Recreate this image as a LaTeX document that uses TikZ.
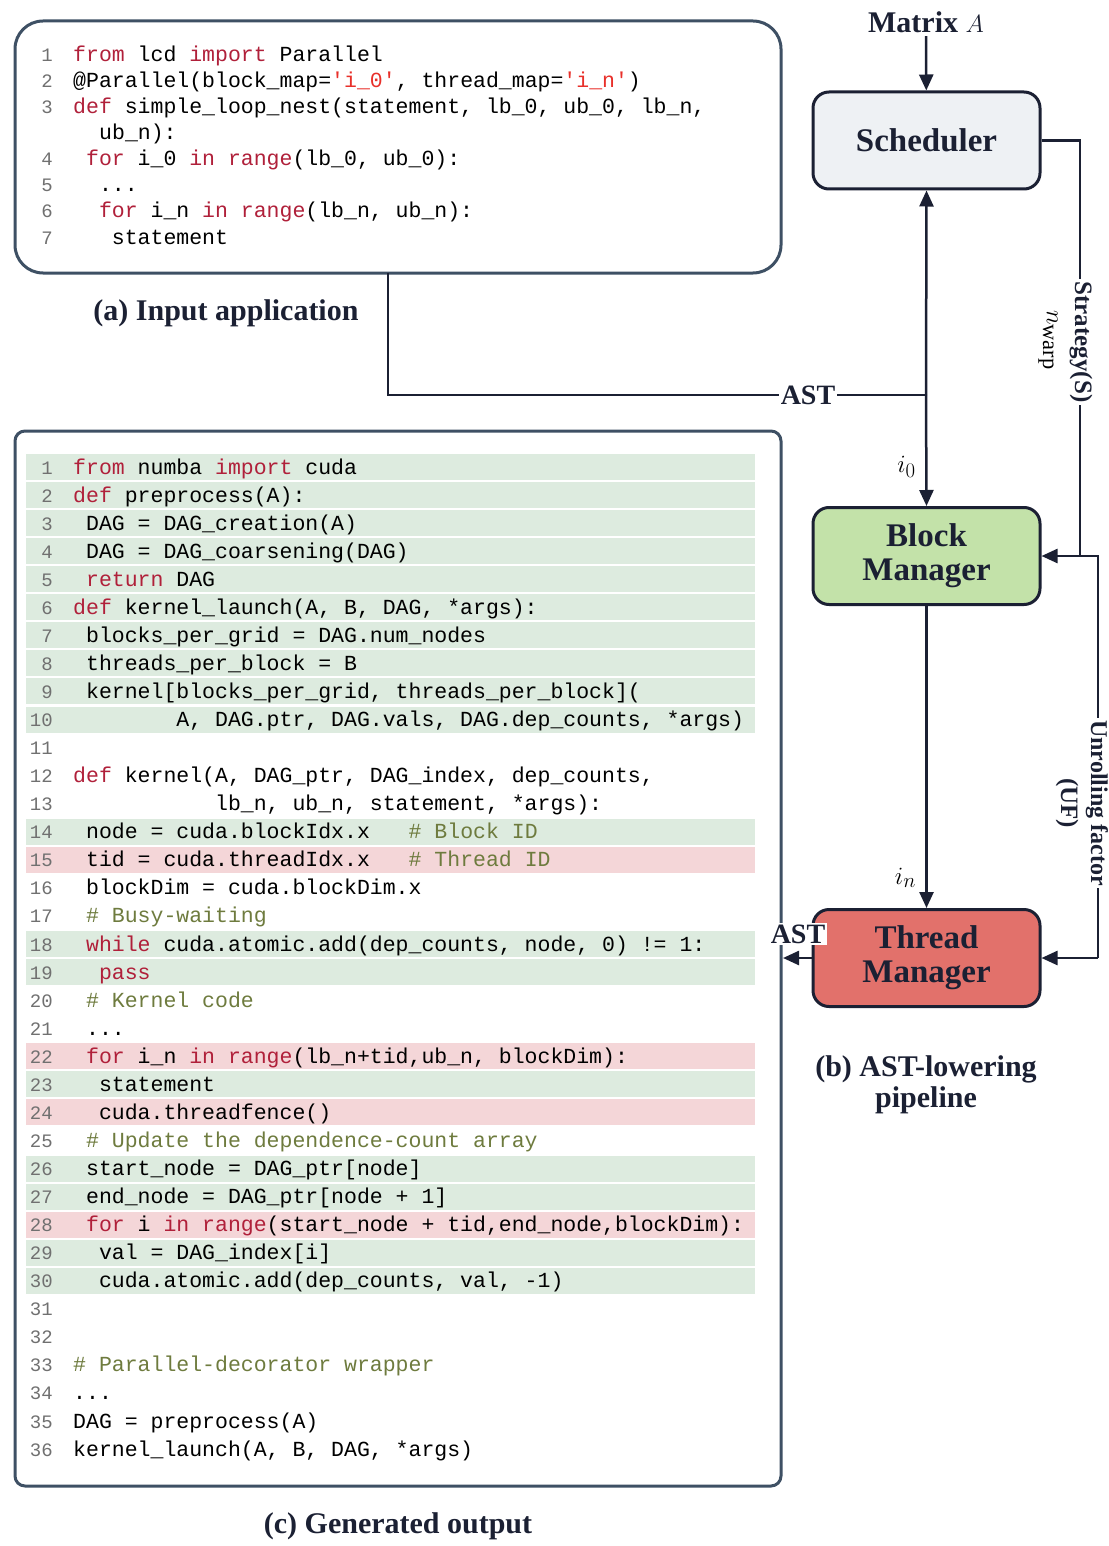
\documentclass[tikz,border=0pt]{standalone}
\usepackage{fontspec}
\setmainfont{Liberation Serif}
\setmonofont{Liberation Mono}
\usetikzlibrary{arrows.meta}
\definecolor{kwc}{HTML}{B0203A}
\definecolor{stc}{HTML}{E8302A}
\definecolor{cmc}{HTML}{6E7B3E}
\definecolor{lnc}{HTML}{707070}
\definecolor{bandg}{HTML}{DDEBDF}
\definecolor{bandr}{HTML}{F4D6D8}
\definecolor{boxb}{HTML}{3E5064}
\definecolor{navy}{HTML}{1B2033}
\definecolor{schf}{HTML}{EEF1F4}
\definecolor{bmf}{HTML}{C3E2A9}
\definecolor{tmf}{HTML}{E2716B}
\newcommand{\kw}[1]{\textcolor{kwc}{#1}}
\newcommand{\st}[1]{\textcolor{stc}{#1}}
\newcommand{\cm}[1]{\textcolor{cmc}{#1}}
\tikzset{
 code/.style={anchor=base west,inner sep=0pt,font=\fontsize{21.5}{24}\ttfamily},
 lnum/.style={anchor=base east,inner sep=0pt,text=lnc,font=\fontsize{19}{22}\ttfamily},
 blk/.style={draw=navy,line width=3pt,rounded corners=16pt,minimum width=227pt,minimum height=97pt,align=center,font=\fontsize{33}{36}\bfseries,text=navy},
 capt/.style={font=\fontsize{30}{35}\bfseries,text=navy,align=center},
 arr/.style={draw=navy,line width=2.5pt,-{Triangle[length=16pt,width=14pt]}},
 ln/.style={draw=navy,line width=2.5pt},
 mlab/.style={font=\fontsize{32}{34}\selectfont},
}
\newcommand{\TL}[4]{\node[lnum] (tn#1) at (53,#2+7) {#1};\node[code] (tl#1) at (73+#3*12.9,#2+7) {#4};}
\newcommand{\BL}[3]{\pgfmathsetmacro{\yy}{467+(#1-1)*28.06}\node[lnum] (bn#1) at (53,\yy+7) {#1};\node[code] (bl#1) at (73+#2*12.9,\yy+7) {#3};}
\newcommand{\band}[2]{\pgfmathsetmacro{\yy}{467+(#1-1)*28.06}\fill[#2] (26,\yy-13) rectangle (755,\yy+13);}
\begin{document}
\begin{tikzpicture}[x=1pt,y=-1pt]
\useasboundingbox (0,0) rectangle (1108,1546);
% top code box
\draw[boxb,line width=3pt,rounded corners=28pt] (15,21) rectangle (781,273);
\coordinate (topbox) at (388,273);
\TL{1}{55}{0}{\kw{from} lcd \kw{import} Parallel}
\TL{2}{81}{0}{@Parallel(block\_map=\st{'i\_0'}, thread\_map=\st{'i\_n'})}
\TL{3}{107}{0}{\kw{def} simple\_loop\_nest(statement, lb\_0, ub\_0, lb\_n,}
\node[code] at (99,140) {ub\_n):};
\TL{4}{159}{1}{\kw{for} i\_0 \kw{in} \kw{range}(lb\_0, ub\_0):}
\TL{5}{185}{2}{...}
\TL{6}{211}{2}{\kw{for} i\_n \kw{in} \kw{range}(lb\_n, ub\_n):}
\TL{7}{237}{3}{statement}
\node[capt] (capa) at (226,313) {(a) Input application};
% bottom code box
\draw[boxb,line width=3pt,rounded corners=10pt] (15,431) rectangle (781,1486);
\foreach \i in {1,...,10,14,18,19,23,26,27,29,30} {\band{\i}{bandg}}
\foreach \i in {15,22,24,28} {\band{\i}{bandr}}
\BL{1}{0}{\kw{from} numba \kw{import} cuda}
\BL{2}{0}{\kw{def} preprocess(A):}
\BL{3}{1}{DAG = DAG\_creation(A)}
\BL{4}{1}{DAG = DAG\_coarsening(DAG)}
\BL{5}{1}{\kw{return} DAG}
\BL{6}{0}{\kw{def} kernel\_launch(A, B, DAG, *args):}
\BL{7}{1}{blocks\_per\_grid = DAG.num\_nodes}
\BL{8}{1}{threads\_per\_block = B}
\BL{9}{1}{kernel[blocks\_per\_grid, threads\_per\_block](}
\BL{10}{8}{A, DAG.ptr, DAG.vals, DAG.dep\_counts, *args)}
\BL{11}{0}{}
\BL{12}{0}{\kw{def} kernel(A, DAG\_ptr, DAG\_index, dep\_counts,}
\BL{13}{11}{lb\_n, ub\_n, statement, *args):}
\BL{14}{1}{node = cuda.blockIdx.x\ \ \ \cm{\# Block ID}}
\BL{15}{1}{tid = cuda.threadIdx.x\ \ \ \cm{\# Thread ID}}
\BL{16}{1}{blockDim = cuda.blockDim.x}
\BL{17}{1}{\cm{\# Busy-waiting}}
\BL{18}{1}{\kw{while} cuda.atomic.add(dep\_counts, node, 0) != 1:}
\BL{19}{2}{\kw{pass}}
\BL{20}{1}{\cm{\# Kernel code}}
\BL{21}{1}{...}
\BL{22}{1}{\kw{for} i\_n \kw{in} \kw{range}(lb\_n+tid,ub\_n, blockDim):}
\BL{23}{2}{statement}
\BL{24}{2}{cuda.threadfence()}
\BL{25}{1}{\cm{\# Update the dependence-count array}}
\BL{26}{1}{start\_node = DAG\_ptr[node]}
\BL{27}{1}{end\_node = DAG\_ptr[node + 1]}
\BL{28}{1}{\kw{for} i \kw{in} \kw{range}(start\_node + tid,end\_node,blockDim):}
\BL{29}{2}{val = DAG\_index[i]}
\BL{30}{2}{cuda.atomic.add(dep\_counts, val, -1)}
\BL{31}{0}{}
\BL{32}{0}{}
\BL{33}{0}{\cm{\# Parallel-decorator wrapper}}
\BL{34}{0}{...}
\BL{35}{0}{DAG = preprocess(A)}
\BL{36}{0}{kernel\_launch(A, B, DAG, *args)}
\node[capt] (capc) at (398,1526) {(c) Generated output};
\coordinate (botbox) at (783,958);
% pipeline
\node[capt] (mat) at (926,22) {Matrix $A$};
\node[blk,fill=schf] (sch) at (926.5,140.5) {Scheduler};
\node[blk,fill=bmf] (bm) at (926.5,556) {Block\\[-2pt]Manager};
\node[blk,fill=tmf] (tm) at (926.5,958) {Thread\\[-2pt]Manager};
\node[capt] (capb) at (926,1085) {(b) AST-lowering\\[-4pt]pipeline};
\draw[arr] (mat) -- (sch);
\coordinate (j) at (926,395);
\draw[ln] (topbox) |- (j);
\draw[arr] (j) -- (sch.south);
\draw[arr] (j) -- node[pos=0.65,left=6pt,mlab] {$i_0$} (bm.north);
\node[fill=white,inner sep=2pt,font=\fontsize{28}{30}\bfseries,text=navy] (astl) at (808,395) {AST};
\draw[arr] (bm.south) -- node[pos=0.9,left=6pt,mlab] {$i_n$} (tm.north);
\coordinate (s1) at (1080,140.5);
\coordinate (s2) at (1080,556);
\draw[ln] (sch.east) -- (s1) -- (s2);
\draw[arr] (s2) -- (bm.east);
\node[fill=white,inner sep=3pt,rotate=-90,font=\fontsize{25}{28}\bfseries,text=navy] (strat) at (1081,342) {Strategy(S)};
\node[rotate=-90,mlab] (nw) at (1048,340) {$n_{\mathrm{warp}}$};
\coordinate (u1) at (1098,556);
\coordinate (u2) at (1098,958);
\draw[ln] (s2) -- (u1) -- (u2);
\draw[arr] (u2) -- (tm.east);
\node[fill=white,inner sep=2pt,rotate=-90,font=\fontsize{24}{28}\bfseries,text=navy] (unr) at (1097,803) {Unrolling factor};
\node[rotate=-90,font=\fontsize{25}{28}\bfseries,text=navy] (uf) at (1067,803) {(UF)};
\draw[arr] (tm.west) -- (botbox);
\node[fill=white,inner sep=2pt,font=\fontsize{28}{30}\bfseries,text=navy] (ast2) at (798,934) {AST};
\end{tikzpicture}
\end{document}
